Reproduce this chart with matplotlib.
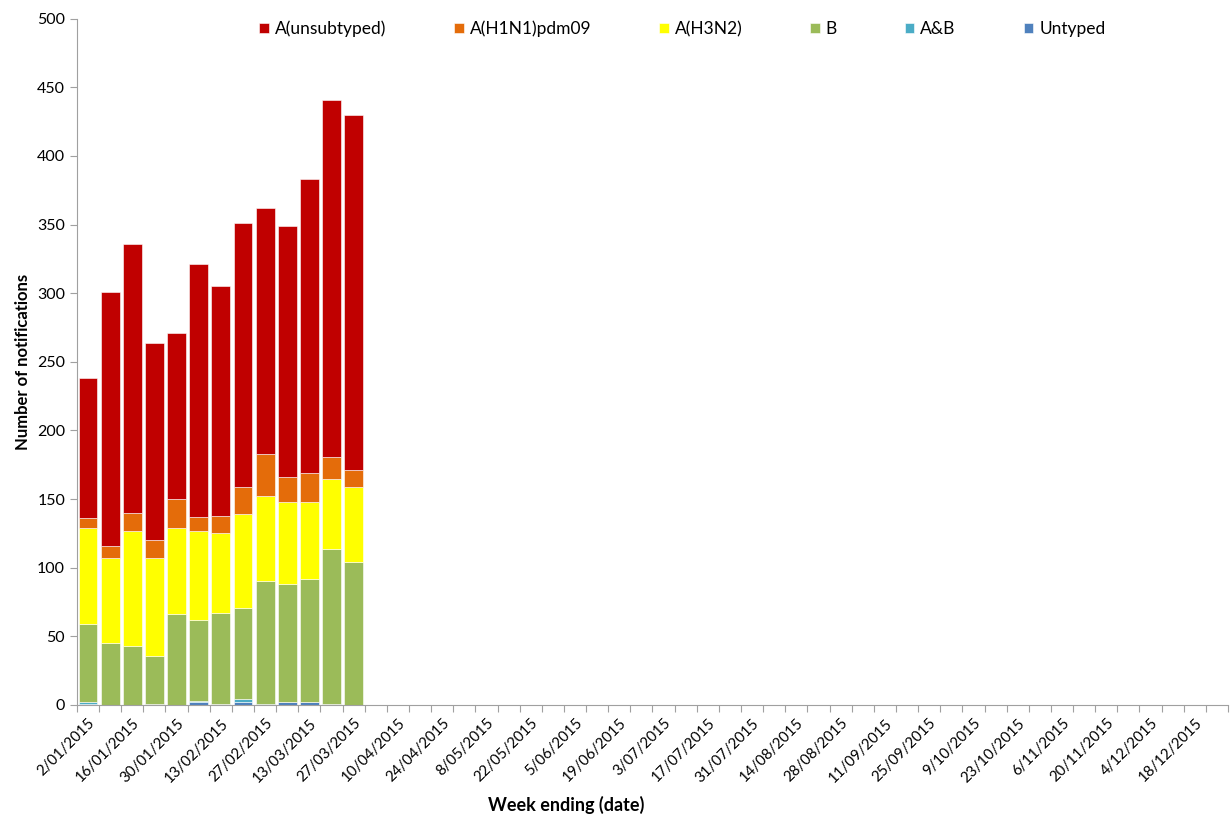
"""
Weekly influenza notifications by subtype, 2015 (stacked bars).
Writes out.png.
"""
import numpy as np
import matplotlib
matplotlib.use("Agg")
import matplotlib.pyplot as plt

# 52 week-ending dates for 2015; only the first 13 weeks have data
WEEKS = [
    "2/01/2015", "9/01/2015", "16/01/2015", "23/01/2015", "30/01/2015",
    "6/02/2015", "13/02/2015", "20/02/2015", "27/02/2015", "6/03/2015",
    "13/03/2015", "20/03/2015", "27/03/2015", "3/04/2015", "10/04/2015",
    "17/04/2015", "24/04/2015", "1/05/2015", "8/05/2015", "15/05/2015",
    "22/05/2015", "29/05/2015", "5/06/2015", "12/06/2015", "19/06/2015",
    "26/06/2015", "3/07/2015", "10/07/2015", "17/07/2015", "24/07/2015",
    "31/07/2015", "7/08/2015", "14/08/2015", "21/08/2015", "28/08/2015",
    "4/09/2015", "11/09/2015", "18/09/2015", "25/09/2015", "2/10/2015",
    "9/10/2015", "16/10/2015", "23/10/2015", "30/10/2015", "6/11/2015",
    "13/11/2015", "20/11/2015", "27/11/2015", "4/12/2015", "11/12/2015",
    "18/12/2015", "25/12/2015",
]

# stacked bottom -> top
untyped = [1, 0, 0, 1, 0, 2, 1, 2, 0, 2, 2, 1, 0]
a_and_b = [1, 0, 0, 0, 0, 1, 0, 2, 1, 0, 0, 0, 0]
b = [57, 45, 43, 35, 66, 59, 66, 67, 89, 86, 90, 113, 104]
h3n2 = [70, 62, 84, 71, 63, 65, 58, 68, 62, 60, 56, 51, 55]
h1n1 = [7, 9, 13, 13, 21, 10, 13, 20, 31, 18, 21, 16, 12]
unsubtyped = [102, 185, 196, 144, 121, 184, 167, 192, 179, 183, 214, 260, 259]

SERIES = [
    ("Untyped", untyped, "#4F81BD"),
    ("A&B", a_and_b, "#4BACC6"),
    ("B", b, "#9BBB59"),
    ("A(H3N2)", h3n2, "#FFFF00"),
    ("A(H1N1)pdm09", h1n1, "#E46C0A"),
    ("A(unsubtyped)", unsubtyped, "#C00000"),
]

plt.rcParams.update({
    "font.family": ["Lato", "DejaVu Sans"],
    "font.size": 12,
})

fig, ax = plt.subplots(figsize=(12.31, 8.15), dpi=100)
fig.subplots_adjust(left=0.0625, right=0.9976, top=0.977, bottom=0.135)

x = np.arange(len(untyped))
bottom = np.zeros(len(x))
handles = {}
for name, vals, color in SERIES:
    h = ax.bar(x, vals, bottom=bottom, width=0.85, color=color,
               edgecolor="white", linewidth=0.4, label=name)
    handles[name] = h
    bottom += np.array(vals)

ax.set_xlim(-0.5, len(WEEKS) - 0.5)
ax.set_ylim(0, 500)
ax.set_yticks(np.arange(0, 501, 50))

# tick marks on category boundaries, labels on every second week
ax.set_xticks(np.arange(len(WEEKS) + 1) - 0.5)
ax.set_xticklabels([])
ax.tick_params(axis="x", which="major", length=5, color="#A0A0A0")
ax.set_xticks(np.arange(0, len(WEEKS), 2), minor=True)
ax.set_xticklabels(WEEKS[::2], minor=True, rotation=45, ha="right",
                   rotation_mode="anchor", fontsize=10.8)
ax.tick_params(axis="x", which="minor", length=0, pad=8)
ax.tick_params(axis="y", length=5, color="#A0A0A0", labelsize=11.5)

for s in ("top", "right"):
    ax.spines[s].set_visible(False)
for s in ("left", "bottom"):
    ax.spines[s].set_color("#A0A0A0")

ax.set_ylabel("Number of notifications", fontweight="bold", fontsize=12)
ax.set_xlabel("Week ending (date)", fontweight="bold", fontsize=13)
ax.xaxis.set_label_coords(0.425, -0.146)
ax.xaxis.label.set_va("center")

order = ["A(unsubtyped)", "A(H1N1)pdm09", "A(H3N2)", "B", "A&B", "Untyped"]
ax.legend([handles[n] for n in order], order, ncol=6, frameon=False,
          loc="center", bbox_to_anchor=(0.526, 0.985), handlelength=0.55,
          handleheight=0.55, handletextpad=0.35, columnspacing=3.9,
          fontsize=12.5)

fig.savefig("out.png", dpi=100)
